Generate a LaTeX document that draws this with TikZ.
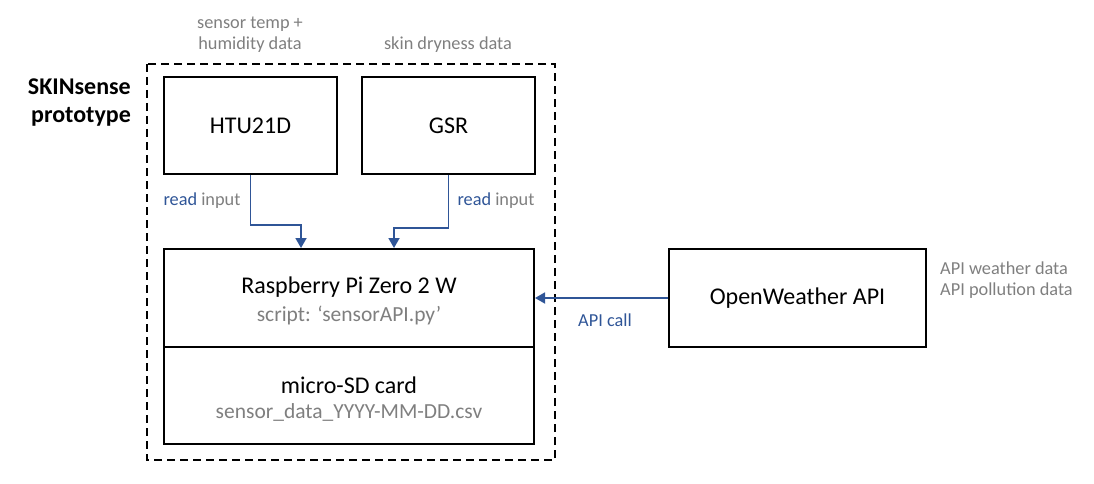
\documentclass[tikz,border=0pt]{standalone}
\usepackage{fontspec}
\setmainfont{Carlito}
\usetikzlibrary{arrows.meta,calc}
\definecolor{arrowblue}{HTML}{2F5597}
\definecolor{txtgrey}{HTML}{7F7F7F}
\tikzset{
  box/.style={draw=black,line width=2pt,inner sep=0pt,minimum width=#1},
  box/.default=173pt,
  maintext/.style={font=\fontsize{24}{28}\selectfont,text=black,inner sep=0pt},
  subtext/.style={font=\fontsize{21.5}{25}\selectfont,text=txtgrey,inner sep=0pt},
  smalltext/.style={font=\fontsize{18.3}{21.5}\selectfont,text=txtgrey,inner sep=0pt},
  conn/.style={draw=arrowblue,line width=1.8pt,-{Triangle[width=11pt,length=10pt]}},
}
\begin{document}
\begin{tikzpicture}[x=1pt,y=-1pt]
\useasboundingbox (0,0) rectangle (1094,484);
% dashed frame
\draw[line width=2pt,dash pattern=on 8pt off 5pt] (147,64) rectangle (555,460);
\node[maintext,font=\fontsize{24}{28}\bfseries\selectfont,align=right,anchor=east] (title) at (131,103) {SKINsense\\prototype};
% boxes
\node[box=173pt,minimum height=97pt] (htu) at (250.5,125.5) {};
\node[maintext] (htut) at (htu.center) {HTU21D};
\node[box=173pt,minimum height=97pt] (gsr) at (448.5,125.5) {};
\node[maintext] (gsrt) at (gsr.center) {GSR};
\node[box=370pt,minimum height=98pt] (rpi) at (349,298) {};
\node[maintext] (rpit) at ($(rpi.center)+(0,-11)$) {Raspberry Pi Zero 2 W};
\node[subtext] (rpis) at ($(rpi.center)+(0,17)$) {script: ‘sensorAPI.py’};
\node[box=370pt,minimum height=97pt] (sd) at (349,395.5) {};
\node[maintext] (sdt) at ($(sd.center)+(0,-10.5)$) {micro-SD card};
\node[subtext] (sds) at ($(sd.center)+(0,16.5)$) {sensor\_data\_YYYY-MM-DD.csv};
\node[box=257pt,minimum height=98pt] (ow) at (797.5,298) {};
\node[maintext] (owt) at (ow.center) {OpenWeather API};
% annotations
\node[smalltext,align=center] (htul) at (250,34.5) {sensor temp +\\humidity data};
\node[smalltext] (gsrl) at (448,45) {skin dryness data};
\node[smalltext] (rd1) at (202,201) {\textcolor{arrowblue}{read} input};
\node[smalltext] (rd2) at (496,201) {\textcolor{arrowblue}{read} input};
\node[smalltext,text=arrowblue] (apic) at (605,320) {API call};
\node[smalltext,align=left,anchor=west] (apid) at (940,280) {API weather data\\API pollution data};
% connectors
\draw[conn] (htu.south) -- ++(0,50) -| ([xshift=-48pt]rpi.north);
\draw[conn] (gsr.south) -- ++(0,53) -| ([xshift=45pt]rpi.north);
\draw[conn] (ow.west) -- (rpi.east);
\end{tikzpicture}
\end{document}
